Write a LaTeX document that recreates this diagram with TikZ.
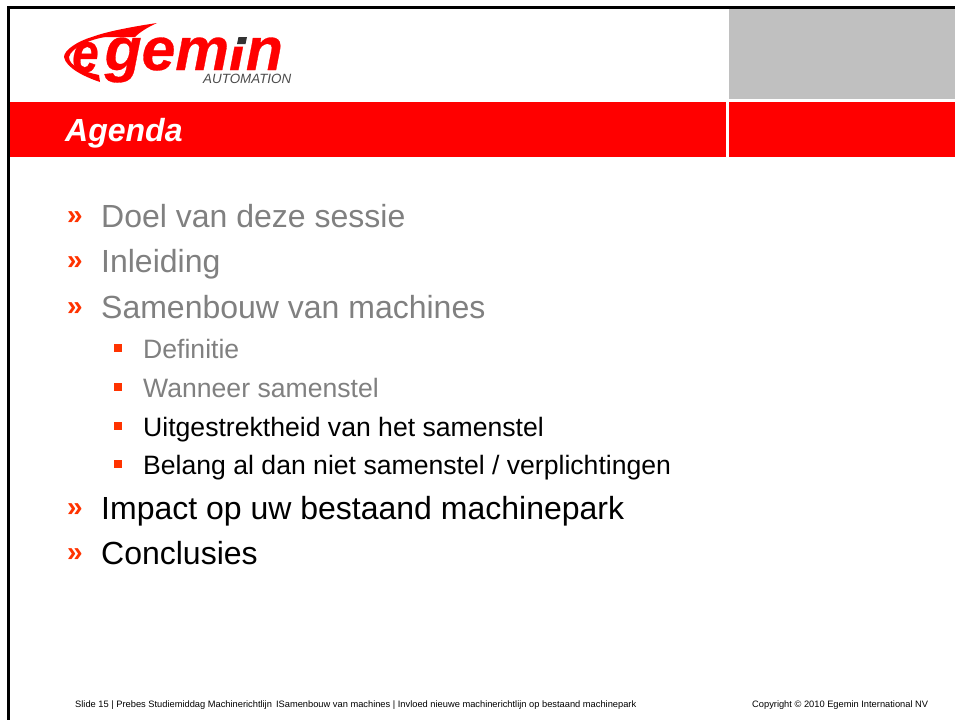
\documentclass[tikz,border=0pt]{standalone}
\usepackage{fontspec}
\setmainfont{Liberation Sans}[BoldItalicFeatures={FakeBold=0.5}]
\newfontfamily\plainbi{Liberation Sans}
\definecolor{egred}{RGB}{255,0,0}
\definecolor{bul}{RGB}{255,51,0}
\definecolor{dim}{RGB}{128,128,128}
\definecolor{panel}{RGB}{192,192,192}
\definecolor{logodark}{RGB}{50,50,50}
\tikzset{
 lvlone/.style={anchor=base west,inner sep=0pt,font=\fontsize{32}{32}\selectfont},
 lvltwo/.style={anchor=base west,inner sep=0pt,font=\fontsize{26.6}{27}\selectfont},
 chev/.style={anchor=base west,inner sep=0pt,text=bul,font=\plainbi\bfseries\fontsize{28}{28}\selectfont},
 sq/.style={fill=bul,draw=none,minimum size=8pt,inner sep=0pt},
 foot/.style={anchor=base west,inner sep=0pt,font=\fontsize{9.3}{10}\selectfont},
}
\begin{document}
\begin{tikzpicture}[x=1pt,y=-1pt]
\useasboundingbox (0,0) rectangle (955,720);
\fill[white] (0,0) rectangle (955,720);
\fill[black] (7,6) rectangle (955,8.5);
\fill[black] (7,6) rectangle (9.5,720);
\fill[panel] (729,8.5) rectangle (955,99);
\fill[egred] (9.5,102) rectangle (726,157);
\fill[egred] (729,102) rectangle (955,157);
% logo
\fill[egred] (157,23) .. controls (130,27) and (105,32) .. (92,37) .. controls (78,41) and (64,50) .. (64,57) .. controls (66,68) and (85,77) .. (100,82) -- (99,75) .. controls (84,72) and (69,66) .. (69,57) .. controls (71,48) and (90,39) .. (106,37) -- (135,37) .. controls (140,32) and (148,27) .. (157,23) -- cycle;
\node[anchor=base west,inner sep=0pt,text=egred,font=\fontsize{56}{56}\selectfont\bfseries\itshape] (logoe) at (72,72) {\scalebox{.85}[1]{e}};
\node[anchor=base west,inner sep=0pt,text=egred,font=\fontsize{60.5}{61}\selectfont\bfseries\itshape] (logom) at (104.5,70) {gemın};
\fill[white] (234,36) -- (247.5,36) -- (246,46.5) -- (232.5,46.5) -- cycle;
\fill[logodark] (238.5,37) -- (247,37) -- (245.5,44) -- (237,44) -- cycle;
\node[anchor=base west,inner sep=0pt,text=black!70,font=\fontsize{13.4}{13.4}\selectfont\itshape] (logoa) at (203,83) {AUTOMATION};
\node[anchor=base west,inner sep=0pt,text=white,font=\plainbi\fontsize{32}{32}\selectfont\bfseries\itshape] (title) at (65,141) {Agenda};
% items
\node[chev] (c1) at (67,224) {»};
\node[lvlone,text=dim] (t1) at (101,227) {Doel van deze sessie};
\node[chev] (c2) at (67,269) {»};
\node[lvlone,text=dim] (t2) at (101,272) {Inleiding};
\node[chev] (c3) at (67,315) {»};
\node[lvlone,text=dim] (t3) at (101,318) {Samenbouw van machines};
\node[sq] (s1) at (118,348) {};
\node[lvltwo,text=dim] (u1) at (143,358) {Definitie};
\node[sq] (s2) at (118,387) {};
\node[lvltwo,text=dim] (u2) at (143,397) {Wanneer samenstel};
\node[sq] (s3) at (118,426) {};
\node[lvltwo] (u3) at (143,436) {Uitgestrektheid van het samenstel};
\node[sq] (s4) at (118,464) {};
\node[lvltwo] (u4) at (143,474) {Belang al dan niet samenstel / verplichtingen};
\node[chev] (c4) at (67,516) {»};
\node[lvlone] (t4) at (101,519) {Impact op uw bestaand machinepark};
\node[chev] (c5) at (67,561) {»};
\node[lvlone] (t5) at (101,564) {Conclusies};
\node[foot] (f1) at (75,707) {Slide 15 | Prebes Studiemiddag Machinerichtlijn \,ISamenbouw van machines | Invloed nieuwe machinerichtlijn op bestaand machinepark};
\node[foot] (f2) at (752,707) {Copyright © 2010 Egemin International NV};
\end{tikzpicture}
\end{document}
